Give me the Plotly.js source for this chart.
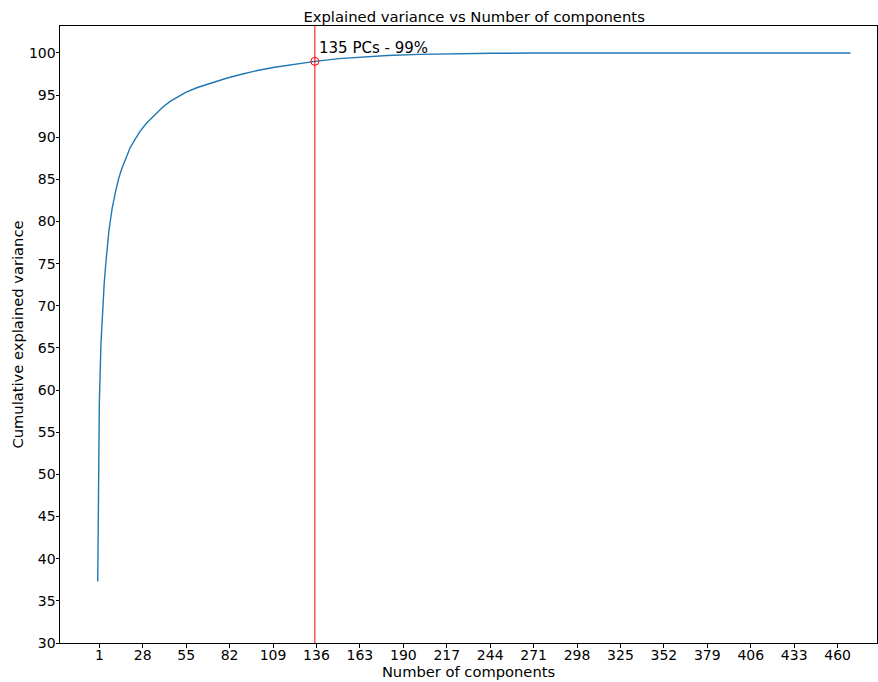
<!DOCTYPE html>
<html>
<head>
<meta charset="utf-8">
<script src="https://cdn.plot.ly/plotly-3.0.1.min.js"></script>
<style>html,body{margin:0;padding:0;background:#fff;}#chart{width:878px;height:682px;}</style>
</head>
<body>
<div id="chart"></div>
<script>
// Components
const components = [0, 1, 2, 3, 4, 5, 6, 7, 8, 9, 11, 13, 15, 17, 20, 23, 26, 30, 35, 40, 45, 50, 55, 62, 70, 80, 90, 100, 110, 120, 135, 150, 165, 180, 200, 220, 245, 270, 300, 468];
// Cumulative explained variance (%)
const cumVariance = [37.3, 58.5, 65.5, 69.5, 72.6, 75.0, 77.2, 79.0, 80.3, 81.6, 83.5, 85.1, 86.3, 87.3, 88.7, 89.7, 90.6, 91.6, 92.6, 93.5, 94.25, 94.85, 95.35, 95.9, 96.4, 97.0, 97.5, 97.95, 98.3, 98.6, 99.0, 99.33, 99.55, 99.7, 99.83, 99.91, 99.96, 99.99, 100.0, 100.0];
const cutComponent = [135];
const cutVariance = [99.0];
const cutLabel = "135 PCs - 99%";
const xTickVals = [1, 28, 55, 82, 109, 136, 163, 190, 217, 244, 271, 298, 325, 352, 379, 406, 433, 460];
const yTickVals = [30, 35, 40, 45, 50, 55, 60, 65, 70, 75, 80, 85, 90, 95, 100];

const font = "DejaVu Sans, sans-serif";

const traces = [
  {
    x: components, y: cumVariance, type: "scatter", mode: "lines",
    line: {color: "#1f77b4", width: 1.4}, hoverinfo: "skip", showlegend: false
  },
  {
    x: cutComponent, y: cutVariance, type: "scatter", mode: "markers",
    marker: {symbol: "circle-open", size: 8, color: "#ff0000", line: {width: 1, color: "#ff0000"}},
    showlegend: false
  }
];

const layout = {
  width: 878, height: 682,
  margin: {l: 60, r: 1, t: 26, b: 39},
  paper_bgcolor: "#fff", plot_bgcolor: "#fff",
  font: {family: font, color: "#000", size: 14},
  title: {text: "Explained variance vs Number of components", font: {family: font, size: 14.8, color: "#000"},
          x: 0.54, xanchor: "center", y: 0.975, yanchor: "middle"},
  xaxis: {
    range: [-23.46, 484.5], tickvals: xTickVals, ticktext: xTickVals.map(String),
    showgrid: false, zeroline: false, showline: true, mirror: true, linecolor: "#000", linewidth: 1,
    ticks: "outside", ticklen: 3.5, tickwidth: 1, tickcolor: "#000", ticklabelstandoff: -4,
    tickfont: {family: font, size: 14, color: "#000"},
    title: {text: "Number of components", font: {family: font, size: 14.7, color: "#000"}, standoff: 2}
  },
  yaxis: {
    range: [30, 103.2], tickvals: yTickVals, ticktext: yTickVals.map(String),
    showgrid: false, zeroline: false, showline: true, mirror: true, linecolor: "#000", linewidth: 1,
    ticks: "outside", ticklen: 3.5, tickwidth: 1, tickcolor: "#000", ticklabelstandoff: -3,
    tickfont: {family: font, size: 14, color: "#000"},
    title: {text: "Cumulative explained variance", font: {family: font, size: 14.7, color: "#000"}, standoff: 1}
  },
  shapes: [{
    type: "line", xref: "x", yref: "paper", x0: cutComponent[0], x1: cutComponent[0], y0: 0, y1: 1,
    line: {color: "#ff0000", width: 1}
  }],
  annotations: [{
    x: cutComponent[0], y: cutVariance[0], xref: "x", yref: "y", text: cutLabel, showarrow: false,
    xanchor: "left", yanchor: "bottom", xshift: 2, yshift: 2,
    font: {family: font, size: 15, color: "#000"}
  }]
};

Plotly.newPlot("chart", traces, layout, {displayModeBar: false, staticPlot: true});
</script>
</body>
</html>
